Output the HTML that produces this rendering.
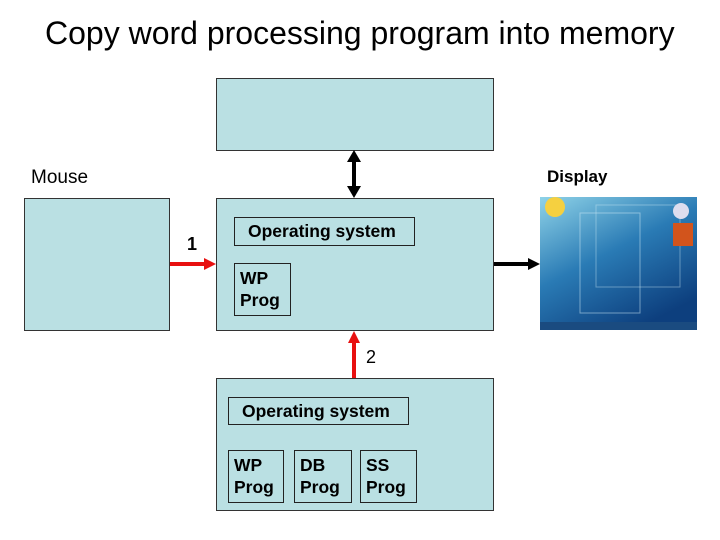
<!DOCTYPE html>
<html><head><style>
body{margin:0;width:720px;height:540px;background:#fff;position:relative;font-family:"Liberation Sans",sans-serif;overflow:hidden}
.b{position:absolute;background:#bae0e3;border:1px solid #333;box-sizing:border-box}
.i{position:absolute;border:1px solid #222;box-sizing:border-box;font-weight:bold;font-size:17.5px;line-height:22px;padding:3px 0 0 5px}
.t{position:absolute;white-space:nowrap}
</style></head><body>
<div class="t" style="left:45px;top:15px;font-size:32px">Copy word processing program into memory</div>
<div class="t" style="left:31px;top:167px;font-size:19px">Mouse</div>
<div class="t" style="left:547px;top:167px;font-size:17px;font-weight:bold">Display</div>
<div class="b" style="left:216px;top:78px;width:278px;height:73px"></div>
<div class="b" style="left:24px;top:198px;width:146px;height:133px"></div>
<div class="b" style="left:216px;top:198px;width:278px;height:133px"></div>
<div class="b" style="left:216px;top:378px;width:278px;height:133px"></div>
<div class="i" style="left:234px;top:217px;width:181px;height:29px;padding:2px 0 0 13px">Operating system</div>
<div class="i" style="left:234px;top:263px;width:57px;height:53px">WP<br>Prog</div>
<div class="i" style="left:228px;top:397px;width:181px;height:28px;padding:2px 0 0 13px">Operating system</div>
<div class="i" style="left:228px;top:450px;width:56px;height:53px">WP<br>Prog</div>
<div class="i" style="left:294px;top:450px;width:58px;height:53px">DB<br>Prog</div>
<div class="i" style="left:360px;top:450px;width:57px;height:53px">SS<br>Prog</div>
<div class="t" style="left:187px;top:234px;font-size:18px;font-weight:bold">1</div>
<div class="t" style="left:366px;top:347px;font-size:18px">2</div>
<svg width="720" height="540" style="position:absolute;left:0;top:0">
<defs>
<linearGradient id="g" x1="0" y1="0" x2="0.6" y2="1"><stop offset="0" stop-color="#8fd3e8"/><stop offset="0.5" stop-color="#2a7bb5"/><stop offset="1" stop-color="#0d3f7e"/></linearGradient>
</defs>
<rect x="540" y="197" width="157" height="133" fill="url(#g)"/>
<rect x="580" y="213" width="60" height="100" fill="none" stroke="#cfeaf5" stroke-opacity="0.5"/>
<rect x="596" y="205" width="84" height="82" fill="none" stroke="#cfeaf5" stroke-opacity="0.4"/>
<circle cx="555" cy="207" r="10" fill="#f5d040"/>
<circle cx="681" cy="211" r="8" fill="#dde"/>
<rect x="673" y="223" width="20" height="23" fill="#d2541c"/>
<rect x="540" y="322" width="157" height="8" fill="#1a4b80"/>
<g stroke="#000" stroke-width="4" fill="#000">
<line x1="354" y1="160" x2="354" y2="188"/>
<polygon points="354,150 347,162 361,162" stroke="none"/>
<polygon points="354,198 347,186 361,186" stroke="none"/>
<line x1="494" y1="264" x2="530" y2="264"/>
<polygon points="540,264 528,258 528,270" stroke="none"/>
</g>
<g stroke="#e81010" stroke-width="4" fill="#e81010">
<line x1="170" y1="264" x2="206" y2="264"/>
<polygon points="216,264 204,258 204,270" stroke="none"/>
<line x1="354" y1="378" x2="354" y2="342"/>
<polygon points="354,331 348,343 360,343" stroke="none"/>
</g>
</svg>
</body></html>
